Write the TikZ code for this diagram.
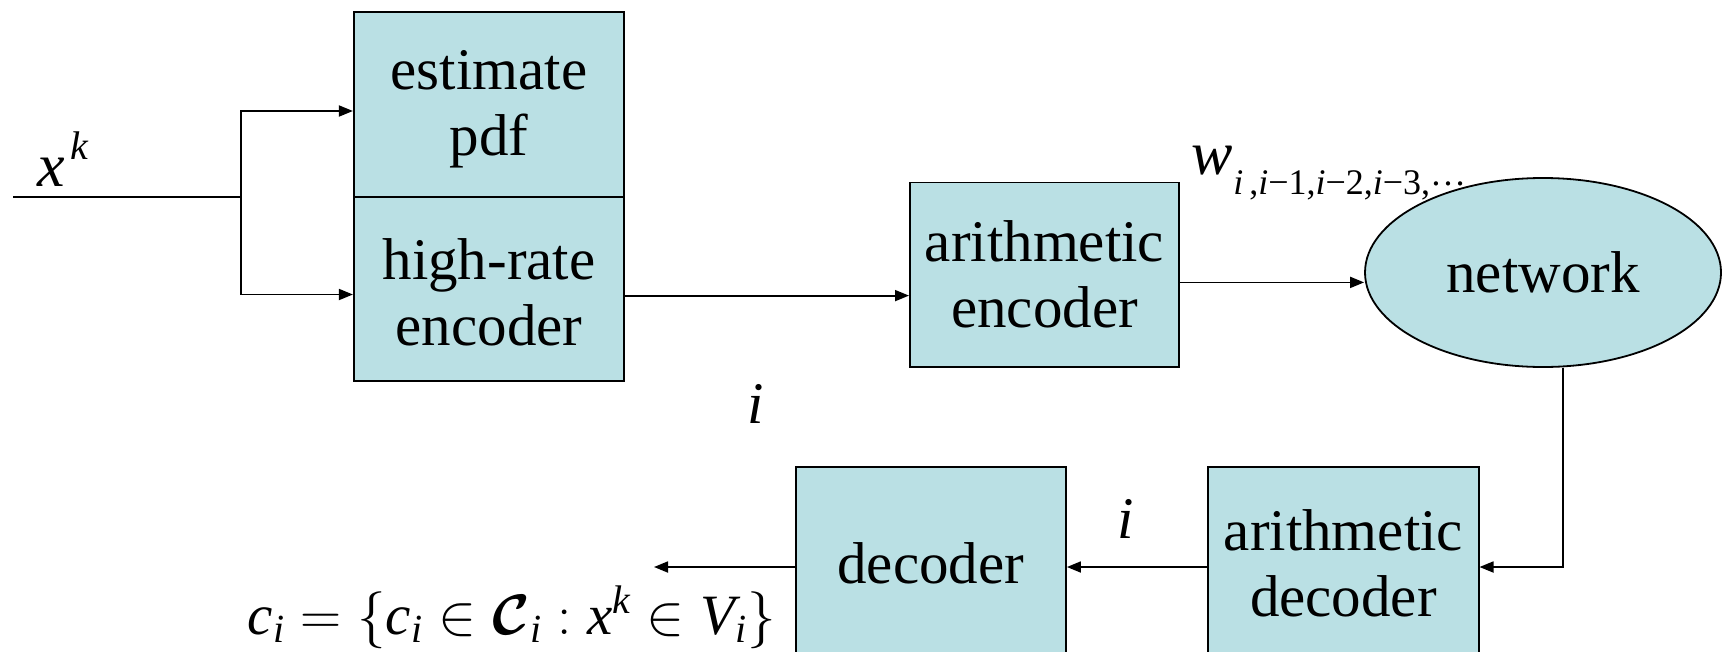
\documentclass[tikz,border=0pt]{standalone}
\usepackage{fix-cm}
\usepackage{amsmath,bm}
\usepackage{fontspec}
\setmainfont{Liberation Serif}
\usetikzlibrary{arrows.meta,shapes.geometric}
\definecolor{boxfill}{RGB}{186,224,228}
% sizes for variables and their indices
\newcommand{\varsz}{\fontsize{62}{62}\selectfont}
\newcommand{\idxsz}{\fontsize{36}{36}\selectfont}
\newcommand{\lowidx}[1]{\raisebox{-20pt}{\idxsz #1}}
\newcommand{\topstrut}{\rule{0pt}{48pt}}
\begin{document}
\begin{tikzpicture}[x=1pt,y=-1pt,line width=1.8pt,
  bigfont/.style={font=\fontsize{59}{66}\selectfont},
  blk/.style={draw,fill=boxfill,minimum width=270.4pt,minimum height=184.6pt,
    inner sep=0pt,align=center,bigfont},
  lbl/.style={inner sep=0pt,bigfont},
  arr/.style={-{Triangle[length=14pt,width=11pt]}}]
\useasboundingbox (0,0) rectangle (1723,651);

% encoder side
\node[blk] (pdf) at (489,104.4) {\topstrut estimate\\pdf};
\node[blk] (hre) at (489,289) {\topstrut high-rate\\encoder};
\node[blk,minimum width=269.2pt] (ae) at (1044.5,274.7) {arithmetic\\encoder};
\node[ellipse,draw,fill=boxfill,minimum width=356pt,minimum height=189pt,
  inner sep=0pt,bigfont] (net) at (1543,272.5) {network};

% decoder side
\node[blk,minimum height=192pt] (ad) at (1343.4,563) {arithmetic\\decoder};
\node[blk,minimum height=192pt] (dec) at (930.8,563) {decoder};

% labels
\node[lbl,anchor=base west] (xk) at (37,186)
  {\varsz\itshape x\hspace{5pt}\raisebox{27pt}{\fontsize{40}{40}\selectfont k}};
\node[lbl,anchor=base west] (w) at (1191,174)
  {\varsz\itshape w\lowidx{\itshape i\,\upshape,\itshape i\upshape−1,\itshape i\upshape−2,\itshape i\upshape−3,\raisebox{9pt}{…}}};
\node[lbl,anchor=base] (i1) at (756,423) {\itshape i};
\node[lbl,anchor=base] (i2) at (1126,538) {\itshape i};
\node[lbl,anchor=base west,font=\fontsize{57}{60}\selectfont] (ci) at (247,634)
  {$\mathit{c}_{\mathit{i}}=\{\mathit{c}_{\mathit{i}}\in\bm{\mathcal{C}}_{\mathit{i}}:\mathit{x}^{\mathit{k}}\in\mathit{V}_{\mathit{i}}\}$};

% connectors
\coordinate (in) at (13,196.7);
\coordinate (br) at (240.7,196.7);
\draw (in) -- (br);
\draw[arr] (br) |- ([yshift=-6.6pt]pdf.west);
\draw[arr] (br) |- ([yshift=-5.5pt]hre.west);
\path ([yshift=-6.6pt]hre.east) coordinate (h1);
\draw[arr] (h1) -- (h1 -| ae.west);
\path ([yshift=-7.7pt]ae.east) coordinate (a1);
\draw[arr] (a1) -- (a1 -| net.west);
\draw[arr] ([xshift=19.6pt]net.south) |- ([yshift=-4pt]ad.east);
\path ([yshift=-4pt]ad.west) coordinate (d1);
\draw[arr] (d1) -- (d1 -| dec.east);
\coordinate (out) at (654,567);
\draw[arr] ([yshift=-4pt]dec.west) -- (out);
\end{tikzpicture}
\end{document}
